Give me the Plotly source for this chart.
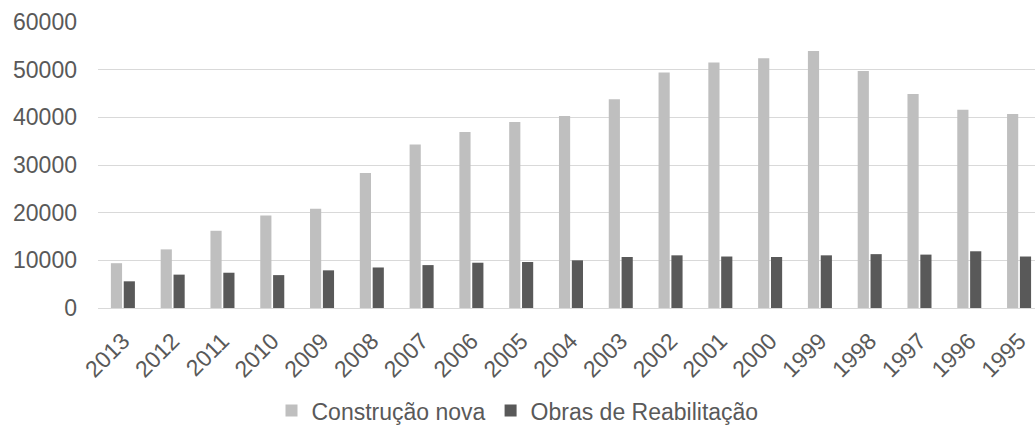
import plotly.graph_objects as go

years = ["2013", "2012", "2011", "2010", "2009", "2008", "2007", "2006", "2005", "2004",
         "2003", "2002", "2001", "2000", "1999", "1998", "1997", "1996", "1995"]
construcao_nova = [9400, 12300, 16200, 19400, 20800, 28300, 34300, 36900, 39000, 40300,
                   43800, 49400, 51500, 52400, 53900, 49700, 44900, 41600, 40700]
obras_reabilitacao = [5600, 7000, 7400, 6900, 7900, 8500, 9000, 9500, 9650, 10000,
                      10700, 11050, 10800, 10700, 11050, 11300, 11200, 11900, 10800]
y_ticks = [0, 10000, 20000, 30000, 40000, 50000, 60000]

FONT = "Liberation Sans, Arial, sans-serif"
TXT = "#595959"

fig = go.Figure()
fig.add_trace(go.Bar(x=years, y=construcao_nova, name="Construção nova",
                     marker=dict(color="#bfbfbf", line=dict(width=0))))
fig.add_trace(go.Bar(x=years, y=obras_reabilitacao, name="Obras de Reabilitação",
                     marker=dict(color="#595959", line=dict(width=0))))

fig.update_layout(
    width=1035, height=430,
    margin=dict(l=98, r=0, t=22, b=122),
    paper_bgcolor="white", plot_bgcolor="white",
    barmode="group", bargap=0.484, bargroupgap=0.13,
    font=dict(family=FONT, size=23, color=TXT),
    showlegend=True,
    legend=dict(orientation="h", xref="container", yref="container",
                x=0.5, xanchor="center", y=0.045, yanchor="middle",
                font=dict(family=FONT, size=23, color=TXT),
                itemwidth=30, traceorder="normal"),
)
fig.update_xaxes(type="category", range=[-0.5, 18.32], tickangle=-45,
                 showgrid=False, showline=False, zeroline=False,
                 ticks="", ticklabelstandoff=14, automargin=False,
                 tickfont=dict(family=FONT, size=23, color=TXT))
fig.update_yaxes(range=[0, 60000], tickvals=y_ticks, tickformat="d",
                 showgrid=True, gridcolor="#d9d9d9", gridwidth=1.3,
                 zeroline=True, zerolinecolor="#d9d9d9", zerolinewidth=1.3,
                 showline=False, ticks="", ticklabelstandoff=20, automargin=False,
                 tickfont=dict(family=FONT, size=23, color=TXT))

fig.write_html("out.html", config={"displayModeBar": False},
               post_script="document.body.style.margin='0';document.body.style.overflow='hidden';")
